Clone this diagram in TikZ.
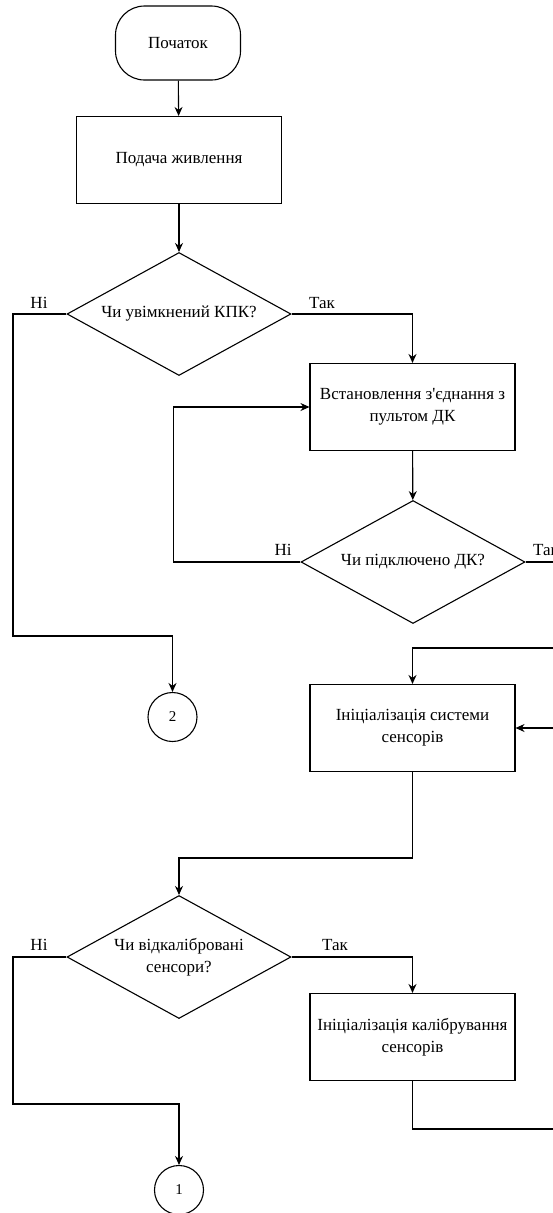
\documentclass[tikz,border=0pt]{standalone}
\usepackage{fontspec}
\setmainfont{Liberation Serif}
\usetikzlibrary{shapes.geometric,arrows.meta}

\begin{document}
\begin{tikzpicture}[x=1pt,y=-1pt,line width=1.1pt,
	font=\fontsize{17}{22}\selectfont,
	>={Stealth[length=9pt,width=8pt]},
	term/.style={draw,rectangle,rounded corners=29pt,minimum width=125pt,minimum height=74pt},
	proc/.style={draw,rectangle,minimum width=205pt,minimum height=87pt,align=center},
	decide/.style={draw,diamond,aspect=1.8,inner sep=0pt,minimum width=224pt,minimum height=123pt,align=center},
	conn/.style={draw,circle,minimum size=49pt,inner sep=0pt,font=\fontsize{15}{18}\selectfont}]
	\useasboundingbox (0,0) rectangle (553,1213);

	\node[term] (start) at (178,43) {Початок};
	\node[proc] (power) at (179,160) {Подача живлення};
	\node[decide] (d1) at (179,314) {Чи увімкнений КПК?};
	\node[proc] (link) at (412.5,407) {Встановлення з\textquotesingle єднання з\\пультом ДК};
	\node[decide] (d2) at (413,562) {Чи підключено ДК?};
	\node[conn] (c2) at (172.5,717) {2};
	\node[proc] (init) at (412.5,728) {Ініціалізація системи\\сенсорів};
	\node[decide] (d3) at (179,957) {Чи відкалібровані\\сенсори?};
	\node[proc] (calib) at (412.5,1037) {Ініціалізація калібрування\\сенсорів};
	\node[conn] (c1) at (179,1190) {1};

	\coordinate (noA) at (13,636);
	\coordinate (loopA) at (173.5,562);
	\coordinate (yesA) at (600,648);
	\coordinate (bendA) at (179,858);
	\coordinate (noB) at (13,1104);
	\coordinate (backA) at (600,1129);

	\draw [->] (start) -- (power);
	\draw [->] (power) -- (d1);
	\draw [->] (d1.west) -| (noA) -| (c2);
	\draw [->] (d1.east) -| (link);
	\draw [->] (link) -- (d2);
	\draw [->] (d2.west) -- (loopA) |- (link);
	\draw [->] (d2.east) -| (yesA) -| (init);
	\draw [->] (init) |- (bendA) -- (d3);
	\draw [->] (d3.west) -| (noB) -| (c1);
	\draw [->] (d3.east) -| (calib);
	\draw [->] (calib) |- (backA) |- (init);

	\node[anchor=base] (no1) at (39,308) {Ні};
	\node[anchor=base] (yes1) at (322,308) {Так};
	\node[anchor=base] (no2) at (283,555) {Ні};
	\node[anchor=base] (yes2) at (546,555) {Так};
	\node[anchor=base] (no3) at (39,950) {Ні};
	\node[anchor=base] (yes3) at (335,950) {Так};
\end{tikzpicture}
\end{document}
